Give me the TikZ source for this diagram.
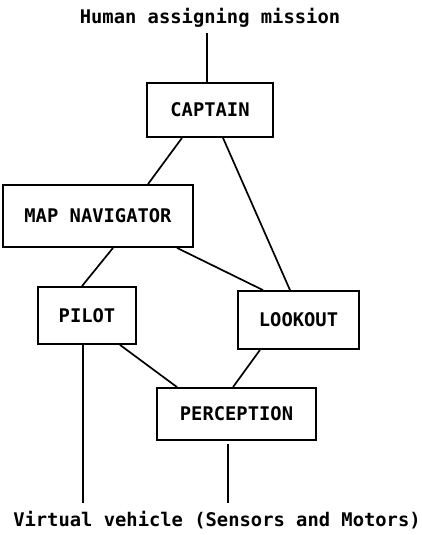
\documentclass[tikz,border=0pt]{standalone}
\usepackage{fontspec}
\setmonofont{DejaVu Sans Mono}
\usepackage{tikz}
\usetikzlibrary{shapes, arrows}
\tikzstyle{line} = [draw, line width=1.7pt]
\tikzstyle{block}=[draw, rectangle, line width=1.8pt, inner sep=0pt]

\begin{document}
\begin{tikzpicture}[x=1pt, y=-1pt, font=\ttfamily\bfseries\fontsize{18.8}{22}\selectfont]
		\useasboundingbox (0,0) rectangle (422,535);
		\node (H) at (210,18) {Human assigning mission};
		\node[block, minimum width=126pt, minimum height=54pt] (C) at (210,110) {CAPTAIN};
		\node[block, minimum width=190pt, minimum height=62pt] (M) at (98,216) {MAP NAVIGATOR};
		\node[block, minimum width=98pt, minimum height=57pt] (P) at (87,315.5) {PILOT};
		\node[block, minimum width=121pt, minimum height=58pt] (L) at (298.5,320) {LOOKOUT};
		\node[block, minimum width=159pt, minimum height=52pt] (PE) at (236.5,414) {PERCEPTION};
		\node (V) at (217,520) {Virtual vehicle (Sensors and Motors)};
		\coordinate (in) at (207,33);
		\coordinate (out1) at (83,503);
		\coordinate (out2) at (228,503);
		\draw[line] ([xshift=-3pt]C.north) -- (in);
		\draw[line] ([xshift=-28pt]C.south) -- ([xshift=50pt]M.north);
		\draw[line] ([xshift=13pt]C.south) -- ([xshift=-8.5pt]L.north);
		\draw[line] ([xshift=15pt]M.south) -- ([xshift=-5pt]P.north);
		\draw[line] ([xshift=79pt]M.south) -- ([xshift=-35.5pt]L.north);
		\draw[line] ([xshift=33pt]P.south) -- ([xshift=-59.5pt]PE.north);
		\draw[line] ([xshift=-38.5pt]L.south) -- ([xshift=-3.5pt]PE.north);
		\draw[line] ([xshift=-4pt]P.south) -- (out1);
		\draw[line] ([xshift=-8.5pt,yshift=-3pt]PE.south) -- (out2);
	\end{tikzpicture}
\end{document}
